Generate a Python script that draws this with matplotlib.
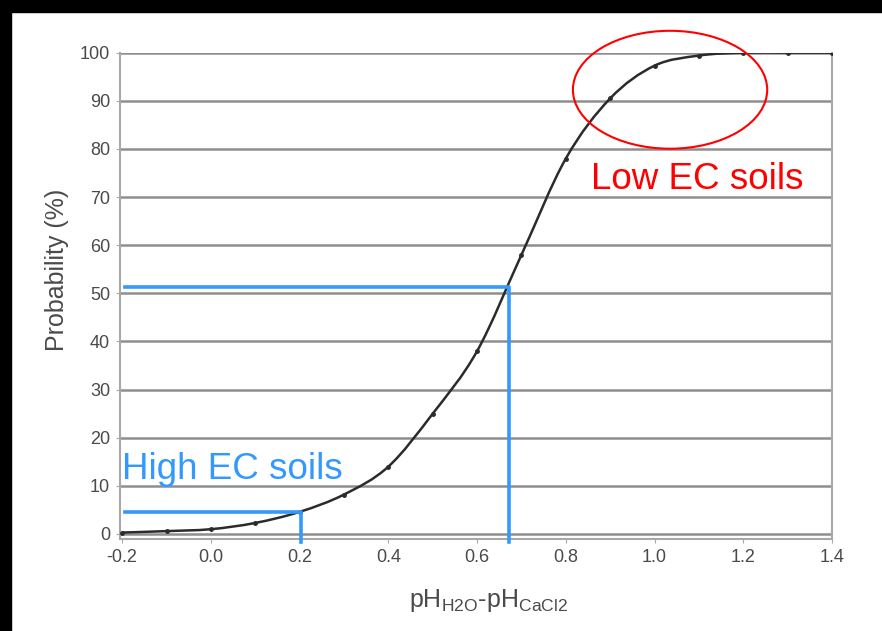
import matplotlib
matplotlib.use("Agg")
import matplotlib.pyplot as plt
from matplotlib.patches import Ellipse, Rectangle, PathPatch
from matplotlib.path import Path

plt.rcParams['font.family'] = ['Liberation Sans', 'DejaVu Sans']
plt.rcParams['mathtext.fontset'] = 'custom'
plt.rcParams['mathtext.rm'] = 'Liberation Sans'

# probability curve
ph_diff = [-0.2, -0.1, 0.0, 0.1, 0.2, 0.3, 0.4, 0.5, 0.6, 0.7, 0.8, 0.9, 1.0, 1.1, 1.2, 1.3, 1.4]
prob = [0.3, 0.6, 1.0, 2.3, 4.6, 8.2, 14.0, 25.0, 38.0, 58.0, 78.0, 90.5, 97.3, 99.4, 100.0, 100.0, 100.0]

x_ticks = [-0.2, 0.0, 0.2, 0.4, 0.6, 0.8, 1.0, 1.2, 1.4]
y_ticks = list(range(0, 101, 10))

# annotation guides
mid_x, mid_y = 0.671, 51.3
low_x, low_y = 0.204, 4.5

fig = plt.figure(figsize=(8.82, 6.31), dpi=100)
ax = fig.add_axes([0.136, 0.1461, 0.8073, 0.7704])

for v in y_ticks:
    ax.axhline(v, color='#8e8e8e', lw=1.8, zorder=1)

# smoothed line through the points (bezier segments, like a spreadsheet "smooth line")
verts = [(ph_diff[0], prob[0])]
codes = [Path.MOVETO]
n = len(ph_diff)
for i in range(n - 1):
    x0, y0 = ph_diff[max(i - 1, 0)], prob[max(i - 1, 0)]
    x1, y1 = ph_diff[i], prob[i]
    x2, y2 = ph_diff[i + 1], prob[i + 1]
    x3, y3 = ph_diff[min(i + 2, n - 1)], prob[min(i + 2, n - 1)]
    verts += [(x1 + (x2 - x0) / 6, y1 + (y2 - y0) / 6),
              (x2 - (x3 - x1) / 6, y2 - (y3 - y1) / 6),
              (x2, y2)]
    codes += [Path.CURVE4] * 3
ax.add_patch(PathPatch(Path(verts, codes), fill=False, edgecolor='#2b2b2b', lw=1.8, zorder=3))
ax.plot(ph_diff, prob, ls='none', color='#2b2b2b', marker='o', markersize=2.5, zorder=3)

ax.set_xlim(-0.205, 1.4)
ax.set_ylim(-1, 100)
ax.set_xticks(x_ticks)
ax.set_xticklabels(['%.1f' % t for t in x_ticks])
ax.set_yticks(y_ticks)

for s in ['left', 'bottom', 'right']:
    ax.spines[s].set_color('#a8a8a8')
    ax.spines[s].set_linewidth(1.5)
ax.spines['top'].set_visible(False)
ax.tick_params(length=3, color='#a8a8a8', labelsize=13, labelcolor='#4a4a4a', pad=4)

ax.set_ylabel('Probability (%)', fontsize=18, color='#4a4a4a')
ax.yaxis.set_label_coords(-0.071, 0.553)
ax.set_xlabel(r'pH$_{\mathrm{H2O}}$-pH$_{\mathrm{CaCl2}}$', fontsize=18, color='#4a4a4a')
ax.xaxis.set_label_coords(0.518, -0.10)

blue = '#3399ff'
ax.plot([-0.193, mid_x, mid_x], [mid_y, mid_y, -1.7], color=blue, lw=2.6, clip_on=False, zorder=4)
ax.plot([-0.193, low_x, low_x], [low_y, low_y, -1.7], color=blue, lw=2.6, clip_on=False, zorder=4)
ax.text(-0.2, 11.4, 'High EC soils', color=blue, fontsize=26.5, va='baseline', ha='left')

ax.add_patch(Ellipse((1.035, 92.3), 0.438, 24.5, fill=False, edgecolor='#ff0000', lw=1.5,
                     clip_on=False, zorder=5))
ax.text(0.856, 71.7, 'Low EC soils', color='#ff0000', fontsize=26.5, va='baseline', ha='left')

# black frame on top and left edges
fig.patches.append(Rectangle((0, 0.981), 1, 0.019, transform=fig.transFigure, color='black'))
fig.patches.append(Rectangle((0, 0), 0.0125, 1, transform=fig.transFigure, color='black'))

fig.savefig('out.png', dpi=100)
